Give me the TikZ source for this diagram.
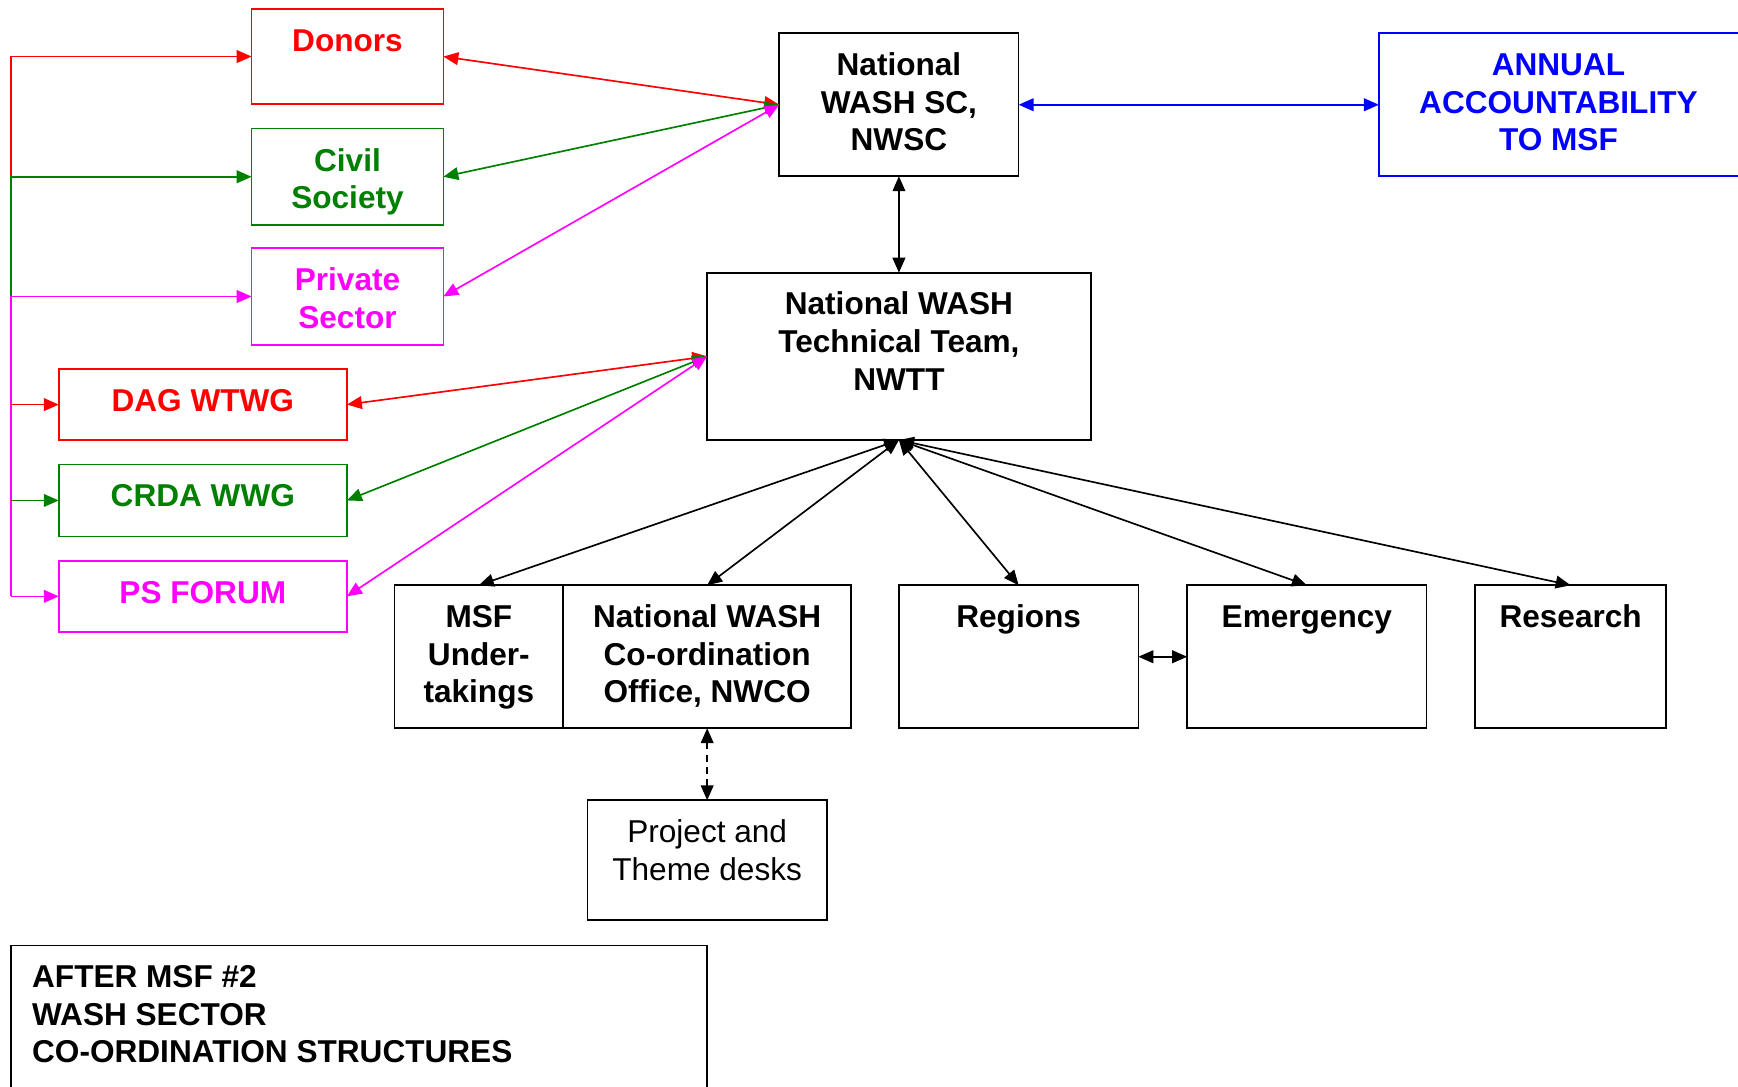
\documentclass[tikz,border=0pt]{standalone}
\usepackage{fontspec}
\setmainfont{Liberation Sans}
\usetikzlibrary{arrows.meta,positioning}
\definecolor{wred}{RGB}{255,0,0}
\definecolor{wgreen}{RGB}{0,128,0}
\definecolor{wmag}{RGB}{255,0,255}
\definecolor{wblue}{RGB}{0,0,255}
\tikzset{
  boxnode/.style={draw,line width=1.5pt,rectangle,inner sep=0pt,outer sep=0pt},
  txtnode/.style={inner sep=0pt,outer sep=0pt,align=center,anchor=north,font=\fontsize{28.5}{34}\selectfont\bfseries},
  lnk/.style={line width=1.5pt},
  twoway/.style={lnk,{Triangle[length=13.5pt,width=11.5pt]}-{Triangle[length=13.5pt,width=11.5pt]}},
  oneway/.style={lnk,-{Triangle[length=13.5pt,width=11.5pt]}}
}
\begin{document}
\begin{tikzpicture}[x=1pt,y=-1pt]
\useasboundingbox (0,0) rectangle (1568,980);
\fill[white] (0,0) rectangle (1568,980);

% left side boxes
\node[boxnode,wred,minimum width=173pt,minimum height=86pt] (Donors) at (313.5,51) {};
\node[boxnode,wgreen,minimum width=173pt,minimum height=87pt] (Civil) at (313.5,159.5) {};
\node[boxnode,wmag,minimum width=173pt,minimum height=87pt] (Private) at (313.5,267.5) {};
\node[boxnode,wred,minimum width=260pt,minimum height=64pt] (DAG) at (183,365) {};
\node[boxnode,wgreen,minimum width=260pt,minimum height=65pt] (CRDA) at (183,451.5) {};
\node[boxnode,wmag,minimum width=260pt,minimum height=64pt] (PSF) at (183,538) {};

% central boxes
\node[boxnode,minimum width=216pt,minimum height=129pt] (NWSC) at (811,94.5) {};
\node[boxnode,wblue,minimum width=326pt,minimum height=129pt] (Annual) at (1407,94.5) {};
\node[boxnode,minimum width=346pt,minimum height=151pt] (NWTT) at (811,321.5) {};
\node[boxnode,minimum width=152pt,minimum height=129pt] (MSF) at (432,592.5) {};
\node[boxnode,minimum width=260pt,minimum height=129pt] (NWCO) at (638,592.5) {};
\node[boxnode,minimum width=216pt,minimum height=129pt] (Regions) at (919,592.5) {};
\node[boxnode,minimum width=216pt,minimum height=129pt] (Emergency) at (1179,592.5) {};
\node[boxnode,minimum width=172pt,minimum height=129pt] (Research) at (1417,592.5) {};
\node[boxnode,minimum width=216pt,minimum height=108pt] (Project) at (638,776) {};
\node[boxnode,minimum width=628pt,minimum height=142pt] (Title) at (324,924) {};

% texts
\node[txtnode,wred,below=14.6pt of Donors.north] (tDonors) {\strut Donors};
\node[txtnode,wgreen,below=14.6pt of Civil.north] (tCivil) {\strut Civil\\Society};
\node[txtnode,wmag,below=14.6pt of Private.north] (tPrivate) {\strut Private\\Sector};
\node[txtnode,wred,below=14.6pt of DAG.north] (tDAG) {\strut DAG WTWG};
\node[txtnode,wgreen,below=14.6pt of CRDA.north] (tCRDA) {\strut CRDA WWG};
\node[txtnode,wmag,below=14.6pt of PSF.north] (tPSF) {\strut PS FORUM};
\node[txtnode,below=14.2pt of NWSC.north] (tNWSC) {\strut National\\WASH SC,\\NWSC};
\node[txtnode,wblue] (tAnnual) at (1406,44.2) {\strut ANNUAL\\ACCOUNTABILITY\\TO MSF};
\node[txtnode,below=14.2pt of NWTT.north] (tNWTT) {\strut National WASH\\Technical Team,\\NWTT};
\node[txtnode,below=14.2pt of MSF.north] (tMSF) {\strut MSF\\Under-\\takings};
\node[txtnode,below=14.2pt of NWCO.north] (tNWCO) {\strut National WASH\\Co-ordination\\Office, NWCO};
\node[txtnode,below=14.2pt of Regions.north] (tRegions) {\strut Regions};
\node[txtnode,below=14.2pt of Emergency.north] (tEmergency) {\strut Emergency};
\node[txtnode,below=14.2pt of Research.north] (tResearch) {\strut Research};
\node[txtnode,font=\fontsize{28.5}{34}\selectfont,below=14.6pt of Project.north] (tProject) {\strut Project and\\Theme desks};
\node[txtnode,align=left,anchor=north west] (tTitle) at (29,867.2) {\strut AFTER MSF \#2\\WASH SECTOR\\CO-ORDINATION STRUCTURES};

% left trunk
\coordinate (trunk) at (10,0);
\draw[oneway,wred] (trunk |- Civil.west) -- (trunk |- Donors.west) -- (Donors.west);
\draw[oneway,wgreen] (trunk |- Private.west) -- (trunk |- Civil.west) -- (Civil.west);
\draw[oneway,wmag] (trunk |- PSF.west) -- (trunk |- Private.west) -- (Private.west);
\draw[oneway,wred] (trunk |- DAG.west) -- (DAG.west);
\draw[oneway,wgreen] (trunk |- CRDA.west) -- (CRDA.west);
\draw[oneway,wmag] (trunk |- PSF.west) -- (PSF.west);

% to NWSC
\draw[twoway,wred] (Donors.east) -- (NWSC.west);
\draw[twoway,wgreen] (Civil.east) -- (NWSC.west);
\draw[twoway,wmag] (Private.east) -- (NWSC.west);
\draw[twoway,wblue] (NWSC.east) -- (Annual.west);
\draw[twoway] (NWSC.south) -- (NWTT.north);

% to NWTT
\draw[twoway,wred] (DAG.east) -- (NWTT.west);
\draw[twoway,wgreen] (CRDA.east) -- (NWTT.west);
\draw[twoway,wmag] (PSF.east) -- (NWTT.west);

\draw[twoway] (NWTT.south) -- (MSF.north);
\draw[twoway] (NWTT.south) -- (NWCO.north);
\draw[twoway] (NWTT.south) -- (Regions.north);
\draw[twoway] (NWTT.south) -- (Emergency.north);
\draw[twoway] (NWTT.south) -- (Research.north);

\draw[twoway] (Regions.east) -- (Emergency.west);
\draw[twoway,dash pattern=on 6pt off 5pt] (NWCO.south) -- (Project.north);
\end{tikzpicture}
\end{document}
